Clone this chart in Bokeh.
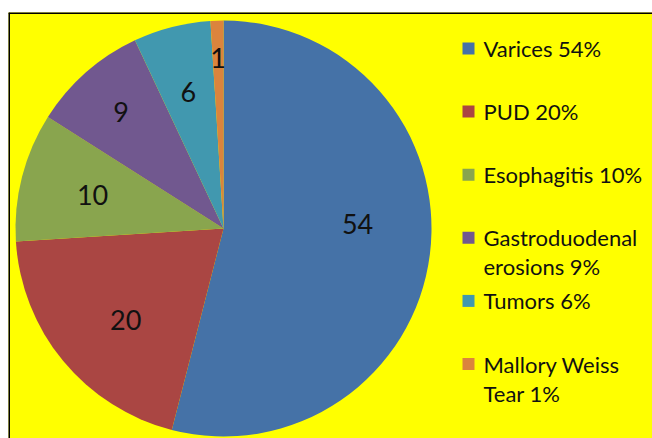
import math
from bokeh.plotting import figure
from bokeh.models import Range1d, Span, ColumnDataSource
from bokeh.core.properties import value
from bokeh.embed import file_html
from bokeh.resources import INLINE

# ---- data ----
categories = ["Varices", "PUD", "Esophagitis", "Gastroduodenal erosions", "Tumors", "Mallory Weiss Tear"]
values = [54, 20, 10, 9, 6, 1]
legend_labels = ["Varices 54%", "PUD 20%", "Esophagitis 10%", "Gastroduodenal\nerosions 9%",
                 "Tumors 6%", "Mallory Weiss\nTear 1%"]
colors = ["#4572A7", "#AA4643", "#89A54E", "#71588F", "#4198AF", "#DB843D"]

# ---- layout (pixels) ----
W, H = 652, 438
BL, BT = 8, 12
FW, FH = W - BL, H - BT
CX, CY, R = 215, FH - 216, 208
label_r_frac = [0.645, 0.645, 0.65, 0.745, 0.68, 0.82]
label_nudge_deg = [9, 3.6, 0, 0, 0, 0]
LEG_SQ_X, LEG_TX_X, LEG_Y0, LEG_STEP, LEG_LINE = 460, 475, FH - 36, 63.1, 29

p = figure(width=W, height=H, output_backend="svg", toolbar_location=None,
           x_range=Range1d(0, FW), y_range=Range1d(0, FH),
           min_border_top=BT, min_border_left=BL, min_border_right=0, min_border_bottom=0)
p.axis.visible = False
p.grid.visible = False
p.background_fill_color = "#FFFF00"
p.border_fill_color = "white"
p.outline_line_color = None

total = sum(values)
starts, ends, lx, ly, texts = [], [], [], [], []
cum = 0
for i, v in enumerate(values):
    a0 = math.pi / 2 - 2 * math.pi * cum / total
    cum += v
    a1 = math.pi / 2 - 2 * math.pi * cum / total
    starts.append(a0)
    ends.append(a1)
    mid = (a0 + a1) / 2 + math.radians(label_nudge_deg[i])
    rr = R * label_r_frac[i]
    lx.append(CX + rr * math.cos(mid))
    ly.append(CY + rr * math.sin(mid))
    texts.append(str(v))

src = ColumnDataSource(dict(start=starts, end=ends, color=colors, cat=categories))
p.wedge(x=CX, y=CY, radius=R, start_angle="start", end_angle="end", direction="clock",
        fill_color="color", line_color=None, source=src)

p.text(x=lx, y=ly, text=texts, text_align="center", text_baseline="middle",
       text_font=value("Lato"), text_font_size="27px", text_color="#111111")

# legend
sq_x, sq_y, sq_c, tx, ty, tt = [], [], [], [], [], []
for i, lab in enumerate(legend_labels):
    y = LEG_Y0 - i * LEG_STEP
    sq_x.append(LEG_SQ_X)
    sq_y.append(y)
    sq_c.append(colors[i])
    for j, line in enumerate(lab.split("\n")):
        tx.append(LEG_TX_X)
        ty.append(y - j * LEG_LINE)
        tt.append(line)
p.rect(x=sq_x, y=sq_y, width=12, height=12, fill_color=sq_c, line_color=None)
p.text(x=tx, y=ty, text=tt, text_align="left", text_baseline="middle",
       text_font=value("Lato"), text_font_size="22px", text_color="#111111")

# border (top and left)
p.add_layout(Span(location=0, dimension="height", line_color="black", line_width=3))
p.add_layout(Span(location=FH, dimension="width", line_color="black", line_width=3))

open("out.html", "w").write(file_html(p, INLINE))
